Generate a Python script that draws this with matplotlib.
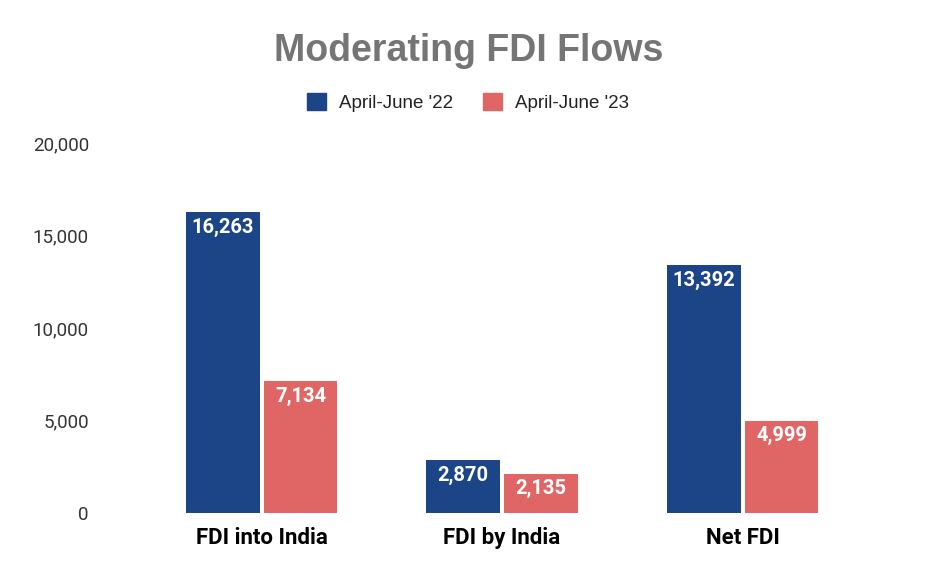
import matplotlib.pyplot as plt
import numpy as np
from matplotlib.patches import Patch

categories = ["FDI into India", "FDI by India", "Net FDI"]
series_names = ["April-June '22", "April-June '23"]
values_22 = [16263, 2870, 13392]
values_23 = [7134, 2135, 4999]
colors = ["#1c4587", "#e06666"]

fig = plt.figure(figsize=(9.38, 5.8), dpi=100)
ax = fig.add_axes([0.1066, 0.1155, 0.853, 0.638])

x = np.arange(len(categories))
w = 0.307
off = 0.162

for vals, dx, c in [(values_22, -off, colors[0]), (values_23, off, colors[1])]:
    bars = ax.bar(x + dx, vals, width=w, color=c)
    for b, v in zip(bars, vals):
        ax.text(b.get_x() + b.get_width() / 2, v - 300, f"{v:,}",
                ha="center", va="top", color="white", fontsize=14.5,
                fontweight="bold", family="Roboto")

ax.set_xlim(-0.672, 2.655)
ax.set_ylim(0, 20000)
ax.set_yticks([0, 5000, 10000, 15000, 20000])
ax.set_yticklabels(["0", "5,000", "10,000", "15,000", "20,000"],
                   family="Roboto", fontsize=13.5, color="#333333")
ax.set_xticks(x)
ax.set_xticklabels(categories, family="Roboto", fontsize=16,
                   fontweight="bold", color="black")
ax.tick_params(axis="both", length=0)
ax.tick_params(axis="y", pad=8)
ax.tick_params(axis="x", pad=10)
for s in ax.spines.values():
    s.set_visible(False)

fig.text(0.5, 0.912, "Moderating FDI Flows", ha="center", va="center",
         fontsize=27, fontweight="bold", color="#757575",
         family="Liberation Sans")

handles = [Patch(color=c) for c in colors]
fig.legend(handles, series_names, loc="center", bbox_to_anchor=(0.499, 0.823),
           ncol=2, frameon=False, prop={"family": "Liberation Sans", "size": 13.5},
           handlelength=1.0, handleheight=1.0, columnspacing=1.6,
           handletextpad=0.7, labelcolor="#222222")

fig.savefig("out.png", dpi=100)
